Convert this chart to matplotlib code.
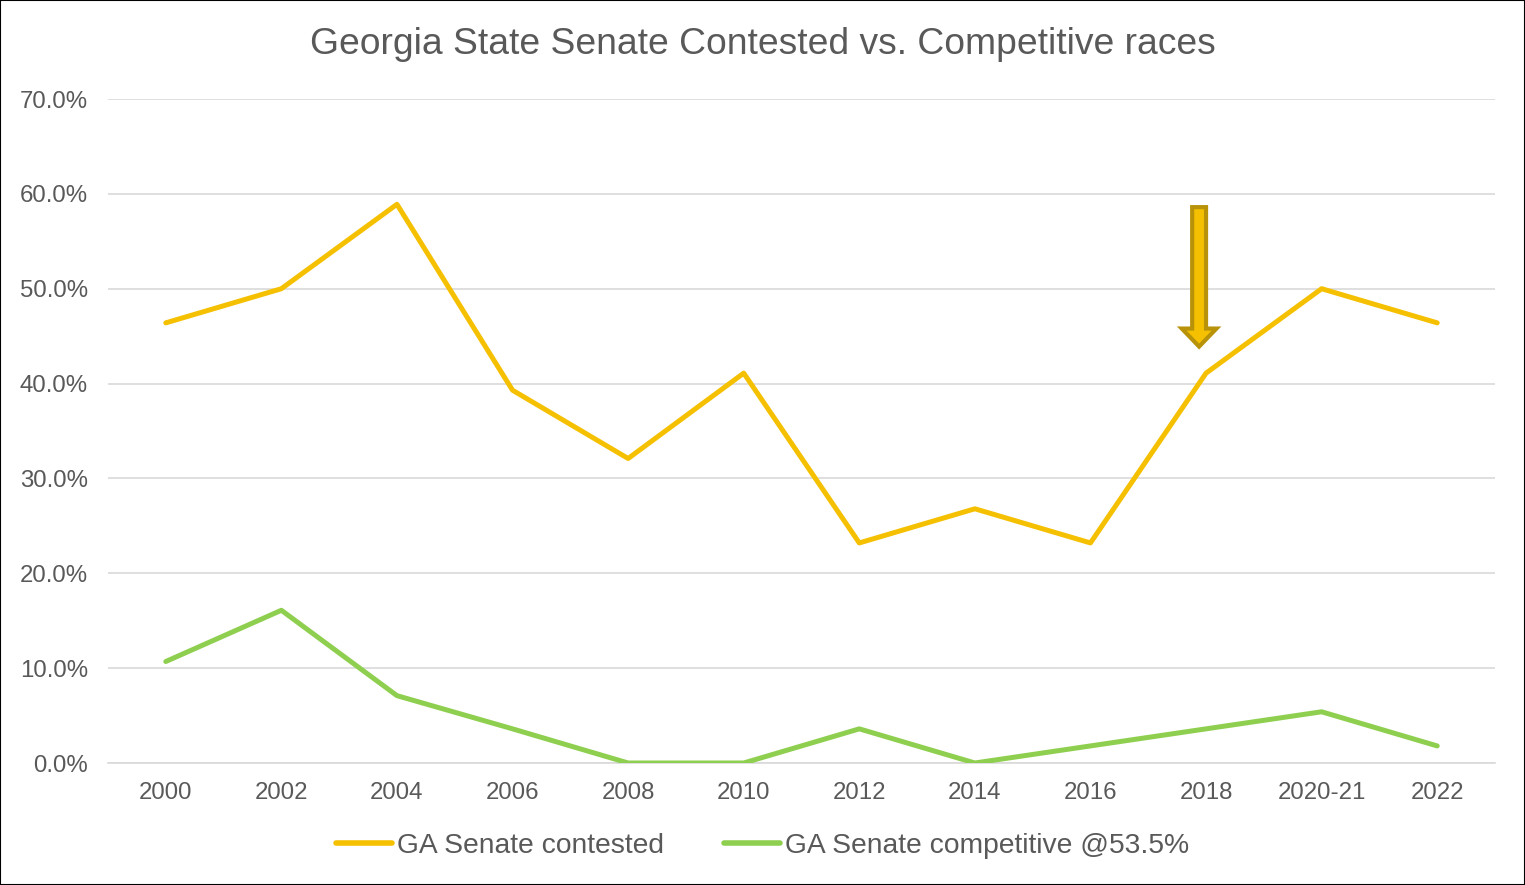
import matplotlib
matplotlib.use("Agg")
import matplotlib.pyplot as plt
from matplotlib.patches import FancyArrow, Rectangle
from matplotlib.ticker import FuncFormatter, MultipleLocator

plt.rcParams['font.family'] = ['Liberation Sans', 'DejaVu Sans']

categories = ["2000", "2002", "2004", "2006", "2008", "2010", "2012", "2014",
              "2016", "2018", "2020-21", "2022"]
contested = [46.4, 50.0, 58.9, 39.3, 32.1, 41.1, 23.2, 26.8, 23.2, 41.1, 50.0, 46.4]
competitive = [10.7, 16.1, 7.1, 3.6, 0.0, 0.0, 3.6, 0.0, 1.8, 3.6, 5.4, 1.8]
series_names = ["GA Senate contested", "GA Senate competitive @53.5%"]
title = "Georgia State Senate Contested vs. Competitive races"

fig = plt.figure(figsize=(15.25, 8.85), dpi=100)
ax = fig.add_axes([108/1525, 1-763/885, 1387/1525, 664/885])

x = list(range(len(categories)))
ax.plot(x, contested, color="#F5C000", lw=3.6, solid_capstyle="round", label=series_names[0], zorder=3)
ax.plot(x, competitive, color="#8FCF4F", lw=3.6, solid_capstyle="round", label=series_names[1], zorder=3)

ax.set_xlim(-0.5, len(categories) - 0.5)
ax.set_ylim(0, 70)
ax.yaxis.set_major_locator(MultipleLocator(10))
ax.yaxis.set_major_formatter(FuncFormatter(lambda v, p: f"{v:.1f}%"))
ax.set_xticks(x)
ax.set_xticklabels(categories)
ax.grid(axis="y", color="#D9D9D9", lw=1.2, zorder=0)
for s in ["top", "left", "right"]:
    ax.spines[s].set_visible(False)
ax.spines["bottom"].set_color("#D9D9D9")
ax.spines["bottom"].set_linewidth(1.2)
ax.tick_params(axis="both", length=0, labelsize=17.3, labelcolor="#595959")
ax.tick_params(axis="y", pad=14.5)
ax.tick_params(axis="x", pad=14)

# arrow annotation
arr = FancyArrow(8.94, 58.6, 0, -14.7, width=0.12, head_width=0.30, head_length=1.9,
                 length_includes_head=True, facecolor="#F5C000", edgecolor="#B8930A",
                 lw=3, zorder=4)
ax.add_patch(arr)

fig.text(0.5, 1-45/885, title, ha="center", va="center", fontsize=26.8, color="#595959")

leg = fig.legend(loc="center", bbox_to_anchor=(0.5, 1-846/885), ncol=2, frameon=False,
                 fontsize=20.3, handlelength=2.0, handletextpad=0.18, columnspacing=2.1)
for t in leg.get_texts():
    t.set_color("#595959")
for h in leg.get_lines():
    h.set_linewidth(4)

fig.patches.append(Rectangle((0, 0), 1, 1, transform=fig.transFigure, fill=False,
                             edgecolor="black", lw=1.5))

fig.savefig("out.png", dpi=100)
